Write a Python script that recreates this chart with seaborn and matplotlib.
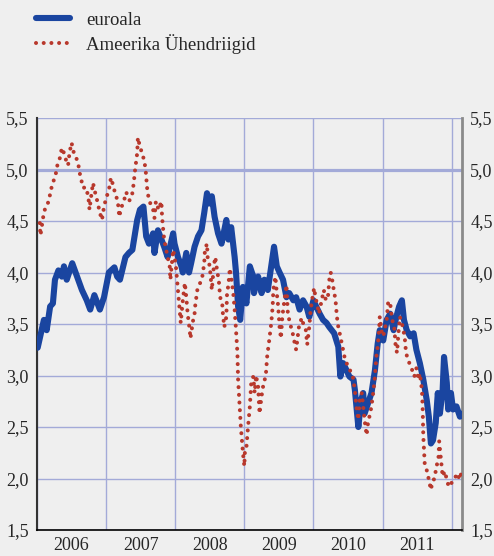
import matplotlib
matplotlib.use("Agg")
import matplotlib.pyplot as plt
import seaborn as sns
import numpy as np
from matplotlib.lines import Line2D
from matplotlib.ticker import FixedLocator, FixedFormatter, NullFormatter

# ---- data (decimal years, yields in %) ----
t_euro = [2006.01, 2006.10, 2006.14, 2006.19, 2006.23, 2006.26, 2006.31, 2006.36, 2006.39, 2006.43,
          2006.51, 2006.58, 2006.65, 2006.72, 2006.77, 2006.83, 2006.91, 2006.97, 2007.04, 2007.12,
          2007.16, 2007.20, 2007.28, 2007.33, 2007.38, 2007.45, 2007.49, 2007.54, 2007.58, 2007.62,
          2007.68, 2007.70, 2007.75, 2007.80, 2007.84, 2007.89, 2007.97, 2007.99, 2008.04, 2008.09,
          2008.11, 2008.16, 2008.20, 2008.23, 2008.28, 2008.33, 2008.38, 2008.42, 2008.46, 2008.49,
          2008.53, 2008.57, 2008.62, 2008.67, 2008.71, 2008.74, 2008.77, 2008.81, 2008.86, 2008.88,
          2008.91, 2008.94, 2008.98, 2009.03, 2009.08, 2009.13, 2009.14, 2009.20, 2009.25, 2009.29,
          2009.34, 2009.39, 2009.43, 2009.47, 2009.51, 2009.56, 2009.61, 2009.65, 2009.71, 2009.75,
          2009.80, 2009.85, 2009.90, 2009.94, 2010.00, 2010.04, 2010.09, 2010.14, 2010.19, 2010.23,
          2010.30, 2010.36, 2010.39, 2010.43, 2010.48, 2010.52, 2010.58, 2010.60, 2010.65, 2010.69,
          2010.72, 2010.74, 2010.79, 2010.84, 2010.89, 2010.93, 2010.96, 2011.01, 2011.06, 2011.11,
          2011.16, 2011.20, 2011.24, 2011.28, 2011.31, 2011.35, 2011.40, 2011.45, 2011.49, 2011.54,
          2011.59, 2011.64, 2011.67, 2011.70, 2011.73, 2011.77, 2011.80, 2011.83, 2011.87, 2011.89,
          2011.93, 2011.95, 2011.99, 2012.02, 2012.07, 2012.12, 2012.15]
v_euro = [3.27, 3.54, 3.44, 3.67, 3.70, 3.93, 4.02, 3.96, 4.06, 3.93,
          4.09, 3.96, 3.83, 3.73, 3.64, 3.78, 3.64, 3.76, 4.00, 4.05,
          3.96, 3.93, 4.15, 4.19, 4.22, 4.51, 4.61, 4.64, 4.35, 4.28,
          4.38, 4.19, 4.41, 4.32, 4.25, 4.15, 4.38, 4.28, 4.15, 4.06,
          4.00, 4.19, 4.00, 4.09, 4.25, 4.35, 4.41, 4.58, 4.77, 4.67,
          4.74, 4.54, 4.38, 4.28, 4.41, 4.51, 4.32, 4.44, 4.15, 4.00,
          3.67, 3.54, 3.86, 3.70, 4.06, 3.96, 3.80, 3.96, 3.80, 3.93,
          3.83, 4.06, 4.25, 4.06, 4.00, 3.93, 3.76, 3.80, 3.73, 3.76,
          3.64, 3.73, 3.67, 3.57, 3.73, 3.67, 3.60, 3.54, 3.51, 3.47,
          3.41, 3.28, 2.99, 3.12, 3.05, 2.99, 2.96, 2.86, 2.50, 2.76,
          2.83, 2.63, 2.73, 2.83, 3.05, 3.31, 3.44, 3.34, 3.54, 3.60,
          3.44, 3.57, 3.67, 3.73, 3.54, 3.44, 3.38, 3.41, 3.25, 3.12,
          2.96, 2.76, 2.60, 2.34, 2.37, 2.54, 2.83, 2.63, 2.86, 3.18,
          2.93, 2.67, 2.83, 2.67, 2.70, 2.60, 2.63]

t_us = [2006.04, 2006.05, 2006.09, 2006.12, 2006.17, 2006.20, 2006.23, 2006.27, 2006.29, 2006.33,
        2006.36, 2006.39, 2006.41, 2006.45, 2006.47, 2006.50, 2006.53, 2006.57, 2006.60, 2006.62,
        2006.64, 2006.67, 2006.70, 2006.73, 2006.75, 2006.76, 2006.78, 2006.81, 2006.84, 2006.87,
        2006.91, 2006.94, 2006.97, 2007.00, 2007.04, 2007.07, 2007.10, 2007.13, 2007.17, 2007.19,
        2007.22, 2007.26, 2007.29, 2007.31, 2007.34, 2007.38, 2007.40, 2007.42, 2007.45, 2007.46,
        2007.49, 2007.52, 2007.55, 2007.57, 2007.60, 2007.64, 2007.68, 2007.70, 2007.72, 2007.76,
        2007.80, 2007.81, 2007.82, 2007.84, 2007.87, 2007.89, 2007.92, 2007.93, 2007.97, 2007.99,
        2008.01, 2008.04, 2008.06, 2008.08, 2008.11, 2008.14, 2008.16, 2008.18, 2008.21, 2008.22,
        2008.26, 2008.28, 2008.29, 2008.32, 2008.35, 2008.39, 2008.42, 2008.43, 2008.46, 2008.47,
        2008.50, 2008.52, 2008.53, 2008.56, 2008.58, 2008.61, 2008.63, 2008.65, 2008.68, 2008.69,
        2008.71, 2008.74, 2008.75, 2008.77, 2008.79, 2008.81, 2008.84, 2008.86, 2008.88, 2008.90,
        2008.91, 2008.93, 2008.95, 2008.97, 2008.98, 2009.00, 2009.01, 2009.03, 2009.05, 2009.08,
        2009.10, 2009.13, 2009.15, 2009.17, 2009.20, 2009.22, 2009.25, 2009.28, 2009.31, 2009.33,
        2009.36, 2009.39, 2009.41, 2009.42, 2009.45, 2009.47, 2009.49, 2009.51, 2009.53, 2009.55,
        2009.58, 2009.61, 2009.63, 2009.66, 2009.70, 2009.73, 2009.75, 2009.79, 2009.83, 2009.85,
        2009.89, 2009.91, 2009.94, 2009.96, 2009.98, 2010.01, 2010.03, 2010.06, 2010.08, 2010.12,
        2010.15, 2010.18, 2010.21, 2010.23, 2010.25, 2010.28, 2010.29, 2010.32, 2010.34, 2010.36,
        2010.39, 2010.42, 2010.45, 2010.48, 2010.53, 2010.57, 2010.60, 2010.62, 2010.65, 2010.67,
        2010.70, 2010.72, 2010.74, 2010.77, 2010.79, 2010.82, 2010.84, 2010.87, 2010.89, 2010.91,
        2010.93, 2010.95, 2010.96, 2010.99, 2011.01, 2011.03, 2011.06, 2011.08, 2011.11, 2011.12,
        2011.14, 2011.17, 2011.19, 2011.21, 2011.23, 2011.25, 2011.28, 2011.30, 2011.32, 2011.34,
        2011.37, 2011.42, 2011.46, 2011.49, 2011.52, 2011.54, 2011.57, 2011.58, 2011.59, 2011.60,
        2011.61, 2011.64, 2011.67, 2011.70, 2011.72, 2011.75, 2011.78, 2011.81, 2011.82, 2011.85,
        2011.87, 2011.90, 2011.93, 2011.95, 2011.98, 2012.00, 2012.02, 2012.06, 2012.09, 2012.11,
        2012.14, 2012.15]
v_us = [4.48, 4.36, 4.54, 4.63, 4.69, 4.80, 4.87, 4.95, 5.03, 5.11,
        5.21, 5.16, 5.11, 5.04, 5.16, 5.26, 5.17, 5.11, 5.04, 4.96,
        4.90, 4.82, 4.83, 4.77, 4.69, 4.61, 4.72, 4.87, 4.78, 4.70,
        4.58, 4.51, 4.64, 4.72, 4.80, 4.92, 4.85, 4.77, 4.69, 4.54,
        4.63, 4.70, 4.78, 4.75, 4.70, 4.77, 4.87, 5.00, 5.16, 5.31,
        5.22, 5.16, 5.09, 5.01, 4.77, 4.67, 4.61, 4.53, 4.69, 4.61,
        4.69, 4.54, 4.46, 4.32, 4.22, 4.15, 4.06, 3.93, 4.22, 4.15,
        4.06, 3.83, 3.67, 3.51, 3.73, 3.90, 3.76, 3.60, 3.44, 3.36,
        3.54, 3.60, 3.68, 3.83, 3.88, 3.95, 4.09, 4.22, 4.28, 4.14,
        4.06, 3.91, 3.83, 4.07, 4.15, 4.00, 3.93, 3.76, 3.70, 3.60,
        3.47, 3.57, 3.80, 3.88, 4.04, 3.96, 3.80, 3.64, 3.44, 3.22,
        2.96, 2.73, 2.50, 2.34, 2.25, 2.12, 2.28, 2.30, 2.47, 2.70,
        2.93, 2.99, 2.83, 3.00, 2.89, 2.63, 2.80, 2.93, 2.99, 3.18,
        3.34, 3.51, 3.67, 3.83, 3.96, 3.80, 3.67, 3.47, 3.36, 3.57,
        3.73, 3.88, 3.60, 3.51, 3.41, 3.31, 3.25, 3.47, 3.56, 3.51,
        3.44, 3.30, 3.47, 3.64, 3.73, 3.85, 3.76, 3.67, 3.60, 3.73,
        3.83, 3.73, 3.76, 3.93, 4.00, 3.90, 3.85, 3.73, 3.57, 3.47,
        3.38, 3.28, 3.18, 3.12, 3.05, 2.99, 2.86, 2.70, 2.57, 2.76,
        2.83, 2.70, 2.57, 2.42, 2.54, 2.63, 2.70, 2.86, 2.99, 3.18,
        3.28, 3.44, 3.57, 3.41, 3.38, 3.44, 3.54, 3.70, 3.72, 3.64,
        3.54, 3.47, 3.28, 3.22, 3.41, 3.57, 3.51, 3.44, 3.38, 3.22,
        3.15, 3.07, 2.99, 3.07, 2.96, 3.02, 2.86, 2.70, 2.41, 2.28,
        2.15, 2.08, 1.99, 1.89, 1.96, 2.00, 2.11, 2.21, 2.36, 2.15,
        2.02, 2.07, 1.99, 1.94, 1.92, 1.96, 1.99, 2.02, 2.05, 1.99,
        2.05, 1.99]

series_labels = ["euroala", "Ameerika Ühendriigid"]
year_labels = ["2006", "2007", "2008", "2009", "2010", "2011"]
y_ticks = [1.5, 2.0, 2.5, 3.0, 3.5, 4.0, 4.5, 5.0, 5.5]
y_labels = ["1,5", "2,0", "2,5", "3,0", "3,5", "4,0", "4,5", "5,0", "5,5"]

# ---- style ----
BG = "#efefef"
GRID = "#a3aad8"
BLUE = "#1a45a0"
RED = "#b8382c"

sns.set_style("white")
plt.rcParams["font.family"] = ["Liberation Serif", "DejaVu Serif"]
plt.rcParams["lines.dash_capstyle"] = "round"

fig = plt.figure(figsize=(4.94, 5.56), dpi=100, facecolor=BG)
ax = fig.add_axes([37 / 494, 26 / 556, 425 / 494, 412 / 556])
ax.set_facecolor(BG)

RED_LW = 2.9
dot = (0, (0.01, 1.9))
sns.lineplot(x=t_euro, y=v_euro, ax=ax, color=BLUE, linewidth=4.4,
             estimator=None, sort=False, zorder=3)
sns.lineplot(x=t_us, y=v_us, ax=ax, color=RED, linewidth=RED_LW, linestyle=dot,
             estimator=None, sort=False, zorder=4)

ax.set_xlim(2006.0, 2012.15)
ax.set_ylim(1.5, 5.5)

years_major = list(range(2006, 2013))
ax.xaxis.set_major_locator(FixedLocator(years_major))
ax.xaxis.set_major_formatter(NullFormatter())
ax.xaxis.set_minor_locator(FixedLocator([y + 0.5 for y in range(2006, 2012)]))
ax.xaxis.set_minor_formatter(FixedFormatter(year_labels))
ax.tick_params(axis="x", which="major", direction="out", length=6, width=1.2, color="black")
ax.tick_params(axis="x", which="minor", length=0, labelsize=13, pad=5)

ax.yaxis.set_major_locator(FixedLocator(y_ticks))
ax.yaxis.set_major_formatter(FixedFormatter(y_labels))
ax.tick_params(axis="y", which="both", length=0, labelsize=13, pad=6,
               labelleft=True, labelright=True)

ax.grid(True, which="major", color=GRID, linewidth=1.0, zorder=0)
ax.axhline(5.0, color=GRID, linewidth=2.3, zorder=1)
ax.set_axisbelow(True)
ax.set_xlabel("")
ax.set_ylabel("")

ax.spines["top"].set_visible(False)
ax.spines["left"].set_color("#333333")
ax.spines["left"].set_linewidth(1.5)
ax.spines["right"].set_color("#8a8a8a")
ax.spines["right"].set_linewidth(2.0)
ax.spines["bottom"].set_color("black")
ax.spines["bottom"].set_linewidth(1.2)

if ax.get_legend() is not None:
    ax.get_legend().remove()

handles = [Line2D([], [], color=BLUE, linewidth=4.4),
           Line2D([], [], color=RED, linewidth=RED_LW, linestyle=dot)]
fig.legend(handles, series_labels, loc="upper left",
           bbox_to_anchor=(32 / 494, 1 - 8 / 556), frameon=False,
           fontsize=13.5, handlelength=1.85, handletextpad=0.85,
           labelspacing=0.28, borderaxespad=0, borderpad=0.2)

fig.savefig("out.png", dpi=100, facecolor=BG)
